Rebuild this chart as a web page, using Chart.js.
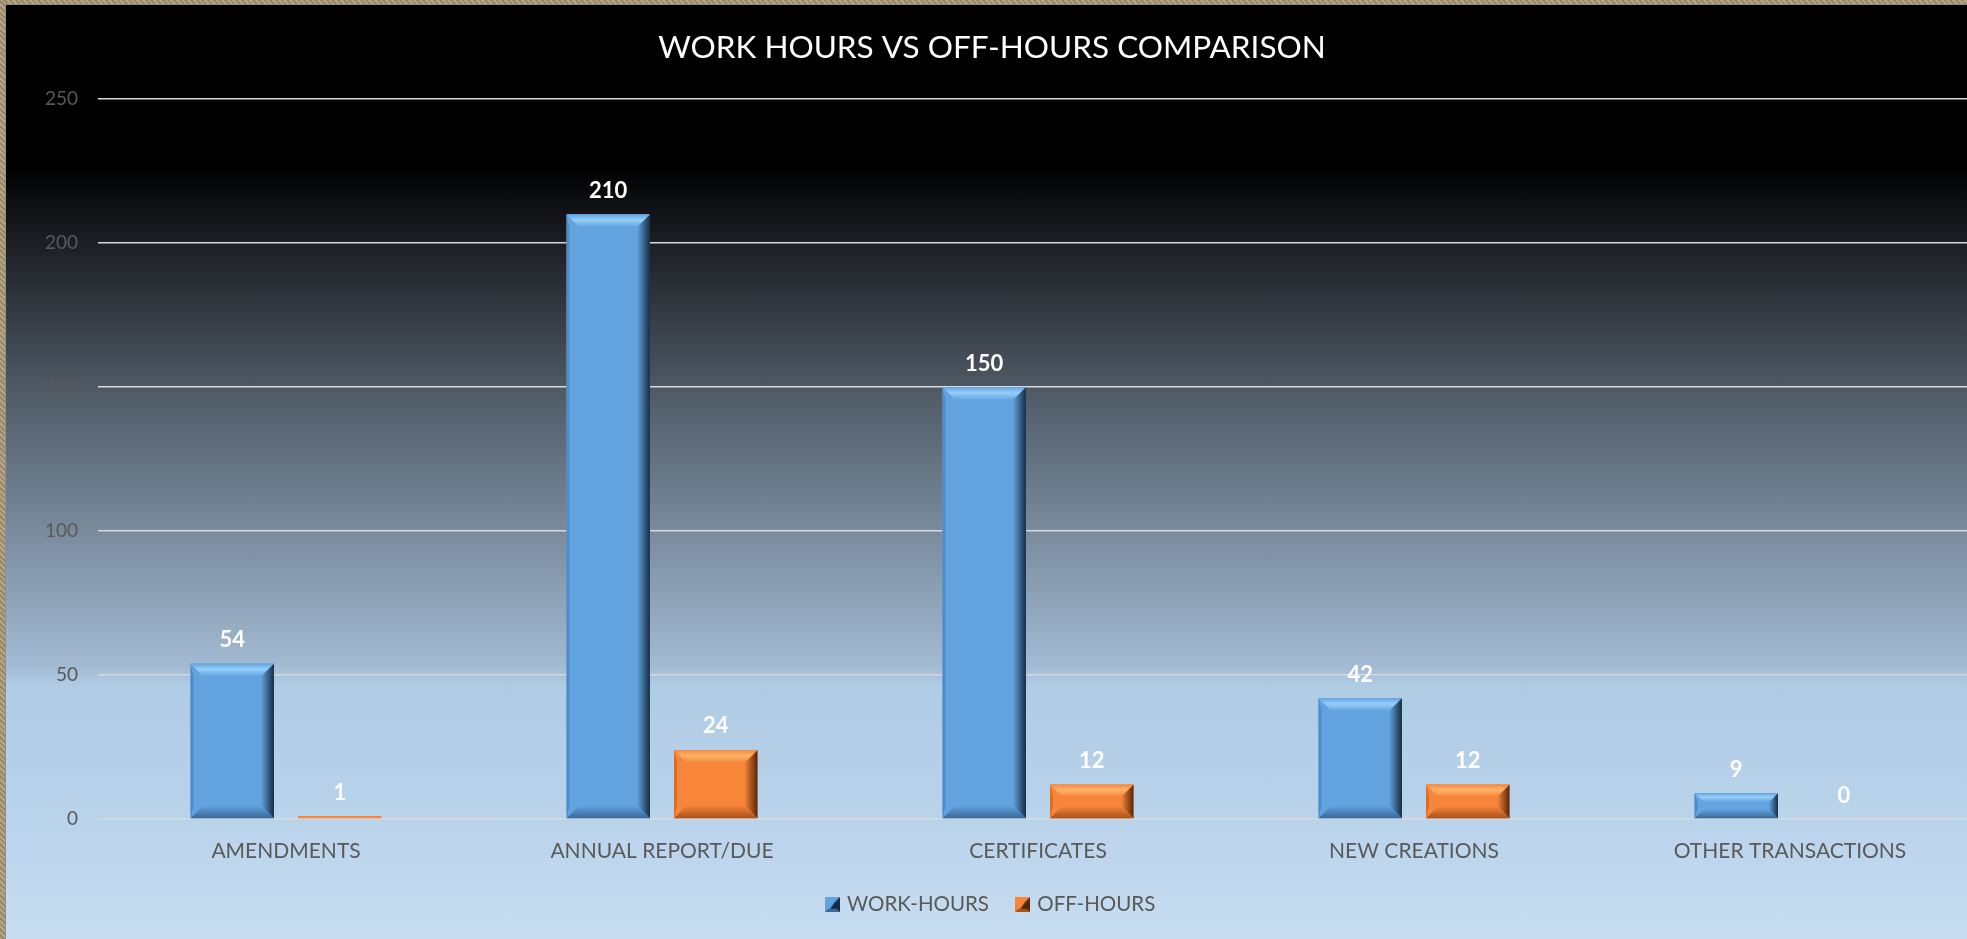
<!DOCTYPE html>
<html>
<head>
<meta charset="utf-8">
<script src="https://cdn.jsdelivr.net/npm/chart.js@4.4.0/dist/chart.umd.min.js"></script>
<style>
  html, body { margin: 0; padding: 0; }
  body {
    width: 1967px; height: 939px; overflow: hidden; position: relative;
    background: repeating-linear-gradient(45deg, #b5a684 0 2px, #9a876a 2px 4px);
  }
  #frame {
    position: absolute; left: 5px; top: 4px; width: 1973px; height: 935px; overflow: hidden;
    border-left: 1px solid #8e8e8e; border-top: 1px solid #8e8e8e; box-sizing: border-box;
    background: linear-gradient(to bottom,
      #000000 0%, #000000 17%, #1c1f24 25.6%, #4e5964 41%, #7a8b9d 56.4%,
      #a2bad2 70.7%, #b0cbe4 72.8%, #b9d3eb 87%, #c8ddf1 100%);
  }
  #wrap { position: absolute; left: 0; top: 0; width: 1972px; height: 934px; }
</style>
</head>
<body>
<div id="frame"><div id="wrap"><canvas id="graph"></canvas></div></div>
<script>
const categories = ['AMENDMENTS', 'ANNUAL REPORT/DUE', 'CERTIFICATES', 'NEW CREATIONS', 'OTHER TRANSACTIONS'];
const workHours = [54, 210, 150, 42, 9];
const offHours = [1, 24, 12, 12, 0];
const seriesNames = ['WORK-HOURS', 'OFF-HOURS'];
const yMin = 0, yMax = 250, yStep = 50;

Chart.defaults.font.family = 'Lato, "Liberation Sans", sans-serif';

// colours for the bevelled bars: main, top light, bottom dark, right edge
const shades = [
  { main: '#62a3e0', light: '#95cff8', bottom: '#3a6a98', edge: '#172c44', left: '#4f8cc6' },
  { main: '#f7853a', light: '#ffb56c', bottom: '#a9521c', edge: '#552709', left: '#db6c26' }
];

function makeIcon(s) {
  const c = document.createElement('canvas');
  c.width = 15; c.height = 15;
  const g = c.getContext('2d');
  g.fillStyle = s.main; g.fillRect(0, 0, 15, 15);
  g.fillStyle = s.edge;
  g.beginPath(); g.moveTo(15, 0); g.lineTo(15, 15); g.lineTo(3, 15); g.lineTo(9, 6); g.closePath(); g.fill();
  g.fillStyle = s.bottom;
  g.beginPath(); g.moveTo(0, 15); g.lineTo(15, 15); g.lineTo(11, 12); g.lineTo(3, 12); g.closePath(); g.fill();
  return c;
}
const icons = shades.map(makeIcon);

const bevel = {
  id: 'bevel',
  afterDatasetsDraw(chart) {
    const ctx = chart.ctx;
    chart.data.datasets.forEach((ds, i) => {
      const s = shades[i];
      chart.getDatasetMeta(i).data.forEach(bar => {
        const p = bar.getProps(['x', 'y', 'base', 'width'], true);
        const l = p.x - p.width / 2, r = p.x + p.width / 2;
        const t = Math.min(p.y, p.base), b = Math.max(p.y, p.base);
        const h = b - t;
        if (h < 6) return;
        const bv = Math.min(13, h * 0.36);
        ctx.save();
        // left side
        ctx.fillStyle = s.left;
        ctx.beginPath(); ctx.moveTo(l, t); ctx.lineTo(l + 3, t + bv); ctx.lineTo(l + 3, b - bv); ctx.lineTo(l, b); ctx.closePath(); ctx.fill();
        // right side
        let g = ctx.createLinearGradient(r - bv, 0, r, 0);
        g.addColorStop(0, s.main); g.addColorStop(1, s.edge);
        ctx.fillStyle = g;
        ctx.beginPath(); ctx.moveTo(r, t); ctx.lineTo(r - bv, t + bv); ctx.lineTo(r - bv, b - bv); ctx.lineTo(r, b); ctx.closePath(); ctx.fill();
        // bottom
        g = ctx.createLinearGradient(0, b - bv, 0, b);
        g.addColorStop(0, s.main); g.addColorStop(1, s.bottom);
        ctx.fillStyle = g;
        ctx.beginPath(); ctx.moveTo(l, b); ctx.lineTo(r, b); ctx.lineTo(r - bv, b - bv); ctx.lineTo(l + bv, b - bv); ctx.closePath(); ctx.fill();
        // top
        g = ctx.createLinearGradient(0, t, 0, t + bv);
        g.addColorStop(0, s.main); g.addColorStop(0.45, s.light); g.addColorStop(1, s.main);
        ctx.fillStyle = g;
        ctx.beginPath(); ctx.moveTo(l, t); ctx.lineTo(r, t); ctx.lineTo(r - bv, t + bv); ctx.lineTo(l + bv, t + bv); ctx.closePath(); ctx.fill();
        ctx.restore();
      });
    });
  }
};

const valueLabels = {
  id: 'valueLabels',
  afterDatasetsDraw(chart) {
    const ctx = chart.ctx;
    ctx.save();
    ctx.font = 'bold 22px Lato, "Liberation Sans", sans-serif';
    ctx.fillStyle = '#ffffff';
    ctx.textAlign = 'center';
    ctx.textBaseline = 'middle';
    chart.data.datasets.forEach((ds, i) => {
      chart.getDatasetMeta(i).data.forEach((bar, j) => {
        const p = bar.getProps(['x', 'y'], true);
        ctx.fillText(String(ds.data[j]), p.x, p.y - 23.5);
      });
    });
    ctx.restore();
  }
};

new Chart(document.getElementById('graph').getContext('2d'), {
  type: 'bar',
  data: {
    labels: categories,
    datasets: [
      { label: seriesNames[0], data: workHours, backgroundColor: shades[0].main, borderWidth: 0 },
      { label: seriesNames[1], data: offHours, backgroundColor: shades[1].main, borderWidth: 0 }
    ]
  },
  options: {
    responsive: true,
    maintainAspectRatio: false,
    animation: false,
    categoryPercentage: 0.572,
    barPercentage: 0.776,
    layout: { padding: { left: 0, right: 0, top: 0, bottom: 14.5 } },
    scales: {
      x: {
        grid: { display: false, drawTicks: false },
        border: { display: false },
        ticks: { color: '#595959', font: { size: 21 }, padding: 20, maxRotation: 0 },
        afterFit: (s) => { s.height = 45; }
      },
      y: {
        min: yMin,
        max: yMax,
        grid: { color: '#d9d9d9', lineWidth: 1.5, drawTicks: false },
        border: { display: false },
        ticks: { stepSize: yStep, color: '#595959', font: { size: 19 }, padding: 20 },
        afterFit: (s) => { s.width = 92; }
      }
    },
    plugins: {
      title: {
        display: true,
        text: 'WORK HOURS VS OFF-HOURS COMPARISON',
        color: '#ffffff',
        font: { size: 31.5, weight: 'normal' },
        padding: { top: 24, bottom: 32.2 }
      },
      legend: {
        position: 'bottom',
        labels: {
          color: '#595959',
          font: { size: 20.5 },
          usePointStyle: true,
          pointStyleWidth: 8,
          padding: 30,
          generateLabels(chart) {
            const items = Chart.defaults.plugins.legend.labels.generateLabels(chart);
            items.forEach((it, i) => { it.pointStyle = icons[i]; });
            return items;
          }
        }
      },
      tooltip: { enabled: false }
    }
  },
  plugins: [bevel, valueLabels]
});
</script>
</body>
</html>
